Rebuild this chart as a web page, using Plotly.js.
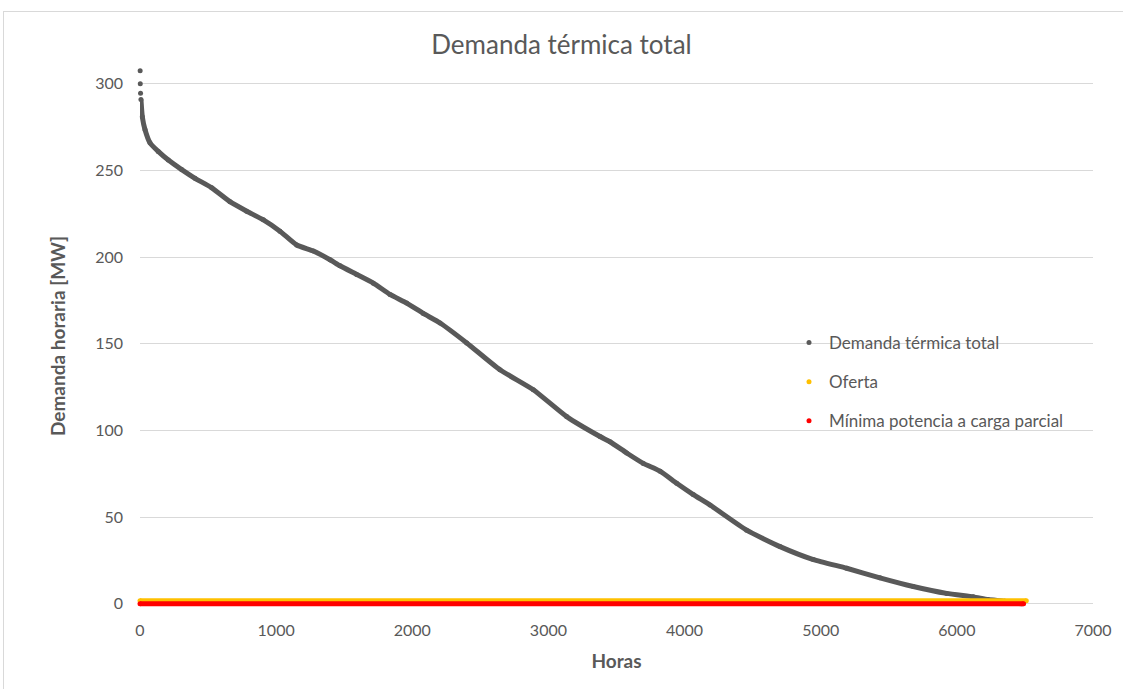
<!DOCTYPE html>
<html>
<head>
<meta charset="utf-8">
<script src="https://cdn.plot.ly/plotly-3.0.1.min.js"></script>
<style>
  html, body { margin: 0; padding: 0; background: #fff; }
  #frame { position: absolute; left: 3px; top: 11px; width: 1130px; height: 700px;
           border: 1px solid #d9d9d9; box-sizing: border-box; }
  #chart { position: absolute; left: 0; top: 0; width: 1123px; height: 689px; }
</style>
</head>
<body>
<div id="frame"></div>
<div id="chart"></div>
<script>
// load duration curve
const horas = [1, 2, 4, 7, 17, 37, 73, 134, 208, 306, 404, 527, 661, 784, 906, 1028,
  1151, 1273, 1396, 1469, 1592, 1714, 1836, 1959, 2081, 2204, 2400, 2644, 2889, 3134,
  3379, 3452, 3575, 3697, 3820, 3942, 4064, 4187, 4456, 4701, 4946, 5191, 5435, 5680,
  5925, 6121, 6229, 6350, 6480];
const demanda = [307.5, 300, 294.5, 291, 281, 273.5, 266, 261, 256, 250.5, 245.5, 240, 232,
  226.5, 221.5, 215, 207, 203.5, 198.5, 195, 190, 185, 178.5, 173.5, 167.5, 162, 150.5,
  135, 123.5, 108, 96.5, 93.5, 87, 81, 76.5, 69.5, 63, 57, 42.5, 33, 25.5, 20.5, 15, 10,
  6, 4, 2.5, 1.5, 0];
// the three highest hours stand apart as single dots
const sueltos = 3;

// constant series
const ofertaHoras = [0, 6510];
const oferta = [1.7, 1.7];
const minimaHoras = [0, 6490];
const minima = [0, 0];

const GREY = '#595959';
const FONT = 'Lato, "Open Sans", sans-serif';

const series = [
  { name: 'Demanda térmica total', x: horas, y: demanda, color: GREY, skip: sueltos },
  { name: 'Oferta', x: ofertaHoras, y: oferta, color: '#ffc000', skip: 0 },
  { name: 'Mínima potencia a carga parcial', x: minimaHoras, y: minima, color: '#ff0000', skip: 0 },
];

const traces = [];
series.forEach((s, i) => {
  traces.push({
    type: 'scatter', mode: 'lines', x: s.x.slice(s.skip), y: s.y.slice(s.skip), name: s.name,
    legendgroup: 'g' + i, showlegend: false, hoverinfo: 'skip',
    line: { color: s.color, width: 5, shape: 'spline', smoothing: 0.5 },
  });
  traces.push({
    type: 'scatter', mode: 'markers', x: s.x, y: s.y, name: s.name,
    legendgroup: 'g' + i, showlegend: true, cliponaxis: false,
    marker: { color: s.color, size: 5 },
  });
});

Plotly.newPlot('chart', traces, {
  width: 1123, height: 689,
  paper_bgcolor: 'rgba(0,0,0,0)', plot_bgcolor: 'rgba(0,0,0,0)',
  font: { family: FONT, color: GREY, size: 16 },
  margin: { l: 140, r: 30, t: 63, b: 80 },
  title: { text: 'Demanda térmica total', font: { size: 26, color: GREY },
           x: 0.5, xanchor: 'center', y: 1 - 45 / 689, yanchor: 'middle' },
  xaxis: {
    range: [0, 7000], dtick: 1000, tick0: 0, showgrid: false, zeroline: false,
    showline: false, ticks: '', ticklabelstandoff: 10,
    title: { text: '<b>Horas</b>', font: { size: 19, color: GREY }, standoff: 16 },
  },
  yaxis: {
    range: [-3, 312], dtick: 50, tick0: 0, showgrid: true, gridcolor: '#d9d9d9',
    zeroline: false, showline: false, ticks: '', ticklabelstandoff: 16,
    title: { text: '<b>Demanda horaria [MW]</b>', font: { size: 19, color: GREY }, standoff: 24 },
  },
  showlegend: true,
  legend: {
    x: (789 - 140) / 953, xanchor: 'left', y: (609 - 325) / 546, yanchor: 'top',
    font: { size: 17, color: GREY }, traceorder: 'grouped', tracegroupgap: 14,
    bgcolor: 'rgba(0,0,0,0)', itemwidth: 30,
  },
}, { displayModeBar: false, staticPlot: true });
</script>
</body>
</html>
